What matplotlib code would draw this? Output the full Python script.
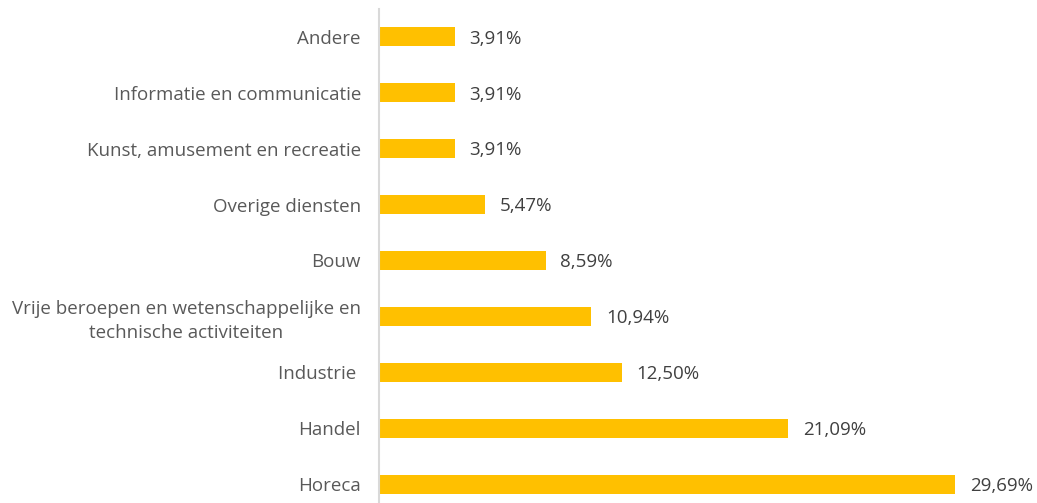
import matplotlib.pyplot as plt

categories = ["Horeca", "Handel", "Industrie ", "Vrije beroepen en wetenschappelijke en\ntechnische activiteiten",
              "Bouw", "Overige diensten", "Kunst, amusement en recreatie",
              "Informatie en communicatie", "Andere"]
values = [29.69, 21.09, 12.50, 10.94, 8.59, 5.47, 3.91, 3.91, 3.91]
value_labels = ["29,69%", "21,09%", "12,50%", "10,94%", "8,59%", "5,47%", "3,91%", "3,91%", "3,91%"]

plt.rcParams['font.family'] = ['Open Sans', 'DejaVu Sans']
fig = plt.figure(figsize=(10.37, 5.03), dpi=100)
ax = fig.add_axes([379 / 1037, 0, 1 - 379 / 1037, 1 - 9 / 503])

pos = list(range(len(categories)))
ax.barh(pos, values, height=0.34, color="#FFC000")
for p, v, lab in zip(pos, values, value_labels):
    ax.text(v + 0.75, p - 0.03, lab, va="center", ha="left", fontsize=13.5, color="#404040")

ax.set_yticks(pos)
ax.set_yticklabels(categories, fontsize=13.5, color="#595959", multialignment="center", linespacing=1.4)
ax.tick_params(axis="y", length=0, pad=13)
ax.set_xticks([])
ax.set_xlim(0, 33.9)
ax.set_ylim(-0.34, 8.5)
for s in ["top", "right", "bottom"]:
    ax.spines[s].set_visible(False)
ax.spines["left"].set_color("#D9D9D9")
ax.spines["left"].set_linewidth(1.5)

fig.savefig("out.png", dpi=100)
